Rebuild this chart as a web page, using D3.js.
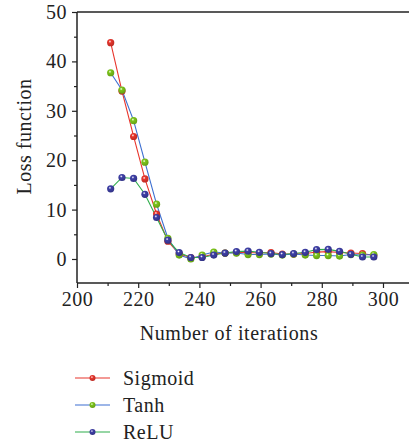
<!DOCTYPE html>
<html><head><meta charset="utf-8">
<script src="https://cdn.jsdelivr.net/npm/d3@7/dist/d3.min.js"></script>
<style>
body{margin:0;background:#fff;}
svg{display:block;}
text{font-family:"Liberation Serif","Times New Roman",serif;fill:#222;}
</style></head>
<body><svg id="c" width="409" height="445"></svg>
<script>
const iterations = [211.0,214.7,218.5,222.2,226.0,229.7,233.4,237.2,240.9,244.7,248.4,252.1,255.9,259.6,263.4,267.1,270.8,274.6,278.3,282.1,285.8,289.5,293.3,297.0];
const sigmoid = [43.8,34.0,24.8,16.2,9.1,3.6,1.0,0.3,0.4,1.0,1.2,1.3,1.3,1.2,1.3,1.0,1.0,1.1,1.4,1.5,1.3,1.2,1.1,0.7];
const tanh    = [37.7,34.2,28.0,19.6,11.1,4.2,0.8,0.0,0.8,1.4,1.2,1.2,0.9,0.9,1.0,0.8,1.0,0.8,0.7,0.7,0.6,0.9,0.8,0.9];
const relu    = [14.2,16.5,16.3,13.1,8.4,3.8,1.3,0.3,0.3,0.8,1.2,1.5,1.6,1.35,1.1,0.9,1.1,1.35,1.9,1.95,1.55,0.95,0.4,0.4];
const seriesNames = ["Sigmoid","Tanh","ReLU"];
const xTicks = [200,220,240,260,280,300];
const yTicks = [0,10,20,30,40,50];

const lineColors = ["#e8352c","#3d6fd1","#2fae4c"];
const markColors = ["#e8352c","#7cc51a","#3e3fa6"];
const dataSets = [sigmoid,tanh,relu];

const svg = d3.select("#c");
const L=77, R=409, T=12, B=283;
const x = d3.scaleLinear().domain([200,308.5]).range([L,R]);
const y = d3.scaleLinear().domain([-4.86,50]).range([B,T]);
const FS = 20, LS = "0.5px";

const defs = svg.append("defs");
markColors.forEach((c,i)=>{
  const g = defs.append("radialGradient").attr("id","g"+i).attr("cx","40%").attr("cy","35%").attr("r","65%");
  g.append("stop").attr("offset","0%").attr("stop-color","#fff");
  g.append("stop").attr("offset","30%").attr("stop-color",c);
  g.append("stop").attr("offset","100%").attr("stop-color",d3.color(c).darker(0.6));
});

const xAxis = d3.axisBottom(x).tickValues(xTicks).tickSize(5).tickPadding(4).tickFormat(d3.format("d"));
const xMinor = d3.axisBottom(x).tickValues([210,230,250,270,290]).tickSize(3).tickFormat("");
const yAxis = d3.axisLeft(y).tickValues(yTicks).tickSize(5).tickPadding(5).tickFormat(d3.format("d"));
const yMinor = d3.axisLeft(y).tickValues([5,15,25,35,45]).tickSize(3).tickFormat("");

function style(g){
  g.select(".domain").remove();
  g.selectAll("line").attr("stroke","#222").attr("stroke-width",1.2);
  g.selectAll("text").attr("font-size",FS).attr("letter-spacing",LS).attr("fill","#222").attr("font-family",'"Liberation Serif",serif');
}
svg.append("g").attr("transform",`translate(0,${B})`).call(xAxis).call(style);
svg.append("g").attr("transform",`translate(0,${B})`).call(xMinor).call(style);
svg.append("g").attr("transform",`translate(${L},0)`).call(yAxis).call(style);
svg.append("g").attr("transform",`translate(${L},0)`).call(yMinor).call(style);

svg.append("line").attr("x1",L).attr("x2",R).attr("y1",B).attr("y2",B).attr("stroke","#222").attr("stroke-width",1.5);
svg.append("line").attr("x1",L).attr("x2",R).attr("y1",T).attr("y2",T).attr("stroke","#222").attr("stroke-width",1.5);
svg.append("line").attr("x1",L).attr("x2",L).attr("y1",T).attr("y2",B).attr("stroke","#222").attr("stroke-width",1.5);

svg.append("text").attr("x",229).attr("y",340).attr("text-anchor","middle").attr("font-size",FS).attr("letter-spacing","0.6px").text("Number of iterations");
svg.append("text").attr("transform",`translate(31,136.5) rotate(-90)`).attr("text-anchor","middle").attr("font-size",FS).attr("letter-spacing",LS).text("Loss function");

const line = d3.line().x((d,i)=>x(iterations[i])).y(d=>y(d));
dataSets.forEach((ds,i)=>{
  svg.append("path").datum(ds).attr("d",line).attr("fill","none").attr("stroke",lineColors[i]).attr("stroke-width",1.1);
});
dataSets.forEach((ds,i)=>{
  svg.append("g").selectAll("circle").data(ds).join("circle")
    .attr("cx",(d,j)=>x(iterations[j])).attr("cy",d=>y(d)).attr("r",3.6)
    .attr("fill",`url(#g${i})`);
});

const lg = svg.append("g");
seriesNames.forEach((n,i)=>{
  const yy = 378 + i*27;
  lg.append("line").attr("x1",75).attr("x2",110).attr("y1",yy).attr("y2",yy).attr("stroke",lineColors[i]).attr("stroke-width",1.1);
  lg.append("circle").attr("cx",92.5).attr("cy",yy).attr("r",3).attr("fill",`url(#g${i})`);
  lg.append("text").attr("x",123).attr("y",yy+6.5).attr("font-size",FS).attr("letter-spacing",LS).text(n);
});
</script></body></html>
